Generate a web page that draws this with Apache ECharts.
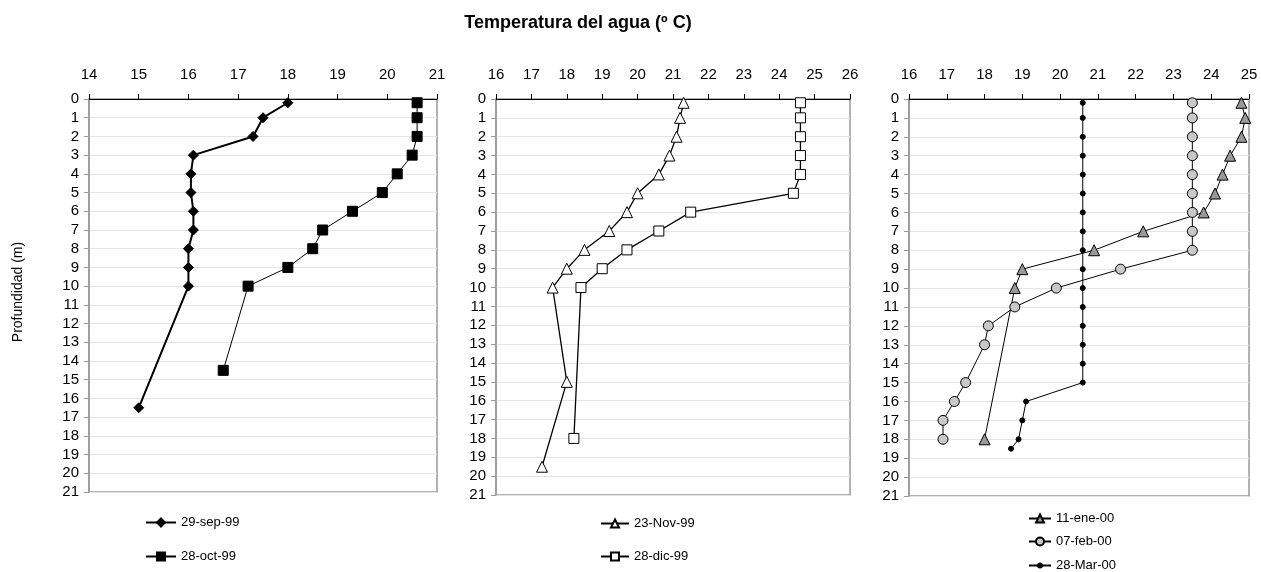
<!DOCTYPE html>
<html>
<head>
<meta charset="utf-8">
<script src="https://cdn.jsdelivr.net/npm/echarts@6/dist/echarts.min.js"></script>
<style>
html,body{margin:0;padding:0;background:#fff;}
#chart{width:1261px;height:572px;}
</style>
</head>
<body>
<div id="chart"></div>
<script>
// ---- Data ----
const depthTicks = [0,1,2,3,4,5,6,7,8,9,10,11,12,13,14,15,16,17,18,19,20,21];

// Panel 1
const depthSep99 = [0.2,1,2,3,4,5,6,7,8,9,10,16.5];
const tempSep99  = [18.0,17.5,17.3,16.1,16.05,16.05,16.1,16.1,16.0,16.0,16.0,15.0];
const depthOct99 = [0.2,1,2,3,4,5,6,7,8,9,10,14.5];
const tempOct99  = [20.6,20.6,20.6,20.5,20.2,19.9,19.3,18.7,18.5,18.0,17.2,16.7];

// Panel 2
const depthNov99 = [0.2,1,2,3,4,5,6,7,8,9,10,15,19.5];
const tempNov99  = [21.3,21.2,21.1,20.9,20.6,20.0,19.7,19.2,18.5,18.0,17.6,18.0,17.3];
const depthDic99 = [0.2,1,2,3,4,5,6,7,8,9,10,18];
const tempDic99  = [24.6,24.6,24.6,24.6,24.6,24.4,21.5,20.6,19.7,19.0,18.4,18.2];

// Panel 3
const depthEne00 = [0.2,1,2,3,4,5,6,7,8,9,10,18];
const tempEne00  = [24.8,24.9,24.8,24.5,24.3,24.1,23.8,22.2,20.9,19.0,18.8,18.0];
const depthFeb00 = [0.2,1,2,3,4,5,6,7,8,9,10,11,12,13,15,16,17,18];
const tempFeb00  = [23.5,23.5,23.5,23.5,23.5,23.5,23.5,23.5,23.5,21.6,19.9,18.8,18.1,18.0,17.5,17.2,16.9,16.9];
const depthMar00 = [0.2,1,2,3,4,5,6,7,8,9,10,11,12,13,14,15,16,17,18,18.5];
const tempMar00  = [20.6,20.6,20.6,20.6,20.6,20.6,20.6,20.6,20.6,20.6,20.6,20.6,20.6,20.6,20.6,20.6,19.1,19.0,18.9,18.7];

const seriesNames = ['29-sep-99','28-oct-99','23-Nov-99','28-dic-99','11-ene-00','07-feb-00','28-Mar-00'];
const xRanges = [[14,21],[16,26],[16,25]];
const titleText = 'Temperatura del agua (º C)';
const yName = 'Profundidad (m)';

function pairs(t, d){ return t.map((v,i)=>[v, d[i]]); }

const FONT = '"Liberation Sans", Arial, sans-serif';
const grids = [
  {left:89, top:99, width:348, height:393},
  {left:496, top:99, width:354, height:396},
  {left:909, top:99, width:340, height:397}
];

const xAxes = xRanges.map((r,i)=>({
  type:'value', gridIndex:i, position:'top', min:r[0], max:r[1], interval:1,
  axisLine:{show:true, lineStyle:{color:'#000', width:1}},
  axisTick:{show:true, length:5, lineStyle:{color:'#000'}},
  axisLabel:{color:'#000', fontSize:15, fontFamily:FONT, margin:17},
  splitLine:{show:false}
}));
const yAxes = [0,1,2].map(i=>({
  type:'value', gridIndex:i, inverse:true, min:0, max:21, interval:1,
  axisLine:{show:true, lineStyle:{color:'#999', width:1.5}},
  axisTick:{show:true, length:5, lineStyle:{color:'#999'}},
  axisLabel:{color:'#000', fontSize:15, fontFamily:FONT, margin:10},
  splitLine:{show:true, lineStyle:{color:'#e4e4e4', width:1}}
}));

function mk(name, idx, data, symbol, size, fill, lw){
  return {
    name:name, type:'line', xAxisIndex:idx, yAxisIndex:idx, data:data,
    symbol:symbol, symbolSize:size, showSymbol:true,
    lineStyle:{color:'#000', width:lw},
    itemStyle:{color:fill, borderColor:'#000', borderWidth:1},
    emphasis:{disabled:true}
  };
}

const series = [
  mk(seriesNames[0],0,pairs(tempSep99,depthSep99),'diamond',10,'#000',2),
  mk(seriesNames[1],0,pairs(tempOct99,depthOct99),'rect',10,'#000',1),
  mk(seriesNames[2],1,pairs(tempNov99,depthNov99),'triangle',11,'#fff',1.3),
  mk(seriesNames[3],1,pairs(tempDic99,depthDic99),'rect',10,'#fff',1.3),
  mk(seriesNames[4],2,pairs(tempEne00,depthEne00),'triangle',11,'#999',1),
  mk(seriesNames[5],2,pairs(tempFeb00,depthFeb00),'circle',10,'#c8c8c8',1),
  mk(seriesNames[6],2,pairs(tempMar00,depthMar00),'circle',5,'#000',1)
];

const legendBase = {orient:'vertical', textStyle:{color:'#000', fontSize:13, fontFamily:FONT}, itemHeight:10, selectedMode:false, padding:0, height:80};

const option = {
  animation:false,
  backgroundColor:'#fff',
  grid: grids.map(g=>Object.assign({show:true, borderColor:'#999', borderWidth:1.5, backgroundColor:'transparent'}, g)),
  xAxis: xAxes,
  yAxis: yAxes,
  legend:[
    Object.assign({}, legendBase, {data:[seriesNames[0],seriesNames[1]], left:145, top:516, itemWidth:30, itemGap:21}),
    Object.assign({}, legendBase, {data:[seriesNames[2],seriesNames[3]], left:600, top:517, itemWidth:28, itemGap:20}),
    Object.assign({}, legendBase, {data:[seriesNames[4],seriesNames[5]], left:1028, top:512, itemWidth:22, itemGap:10}),
    Object.assign({}, legendBase, {data:[seriesNames[6]], left:1028, top:559, itemWidth:22, itemHeight:5})
  ],
  graphic:[
    {type:'text', x:578, y:23,
      style:{text:titleText, fill:'#000', font:'bold 18px '+FONT, textAlign:'center', textVerticalAlign:'middle'}},
    {type:'text', x:18, y:292, rotation:Math.PI/2,
      style:{text:yName, fill:'#000', font:'14px '+FONT, textAlign:'center', textVerticalAlign:'middle'}}
  ],
  series: series
};

const chart = echarts.init(document.getElementById('chart'), null, {renderer:'canvas'});
chart.setOption(option);
</script>
</body>
</html>
